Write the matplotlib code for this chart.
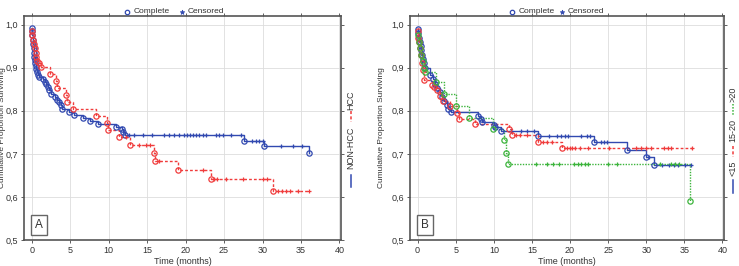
import numpy as np
import matplotlib.pyplot as plt
from matplotlib.lines import Line2D

plt.rcParams['font.family'] = ['Liberation Sans', 'DejaVu Sans']
plt.rcParams['font.size'] = 6

# Panel A: NON-HCC / HCC
nonhcc_t = [0, 0.05, 0.1, 0.15, 0.2, 0.25, 0.3, 0.35, 0.4, 0.45, 0.5, 0.55, 0.65, 0.8, 1.0, 1.5, 1.7, 1.9,
            2.1, 2.3, 2.5, 3.0, 3.3, 3.5, 3.8, 4.0, 4.9, 5.5, 6.7, 7.6, 8.6, 11.0, 11.7, 11.9, 12.1, 27.6,
            30.2, 36.0]
nonhcc_s = [0.993, 0.985, 0.975, 0.965, 0.955, 0.945, 0.935, 0.925, 0.918, 0.91, 0.903, 0.897, 0.89, 0.884,
            0.879, 0.874, 0.867, 0.861, 0.855, 0.848, 0.84, 0.833, 0.826, 0.82, 0.813, 0.805, 0.797, 0.79,
            0.784, 0.776, 0.769, 0.763, 0.757, 0.750, 0.743, 0.73, 0.719, 0.701]
nonhcc_c = [12.6, 13.3, 14.5, 15.7, 17.2, 17.8, 18.5, 19.1, 19.8, 20.2, 20.6, 21.0, 21.4, 21.8, 22.3, 22.7,
            23.9, 24.3, 24.8, 25.9, 27.2, 28.6, 29.1, 29.6, 30.0, 32.4, 34.0, 35.1]

hcc_t = [0, 0.1, 0.2, 0.3, 0.4, 0.5, 0.6, 0.75, 0.9, 1.2, 2.4, 3.1, 3.3, 4.4, 4.6, 5.4, 8.3, 9.8, 9.9,
         11.4, 12.8, 15.9, 16.0, 19.0, 23.3, 31.3]
hcc_s = [0.985, 0.975, 0.965, 0.955, 0.945, 0.935, 0.925, 0.915, 0.91, 0.902, 0.885, 0.87, 0.854, 0.837,
         0.821, 0.804, 0.788, 0.771, 0.756, 0.738, 0.721, 0.702, 0.683, 0.662, 0.641, 0.613]
hcc_c = [12.2, 13.9, 14.9, 15.4, 16.6, 22.2, 23.7, 24.1, 25.2, 27.4, 30.1, 30.6, 32.0, 32.5, 33.1, 33.6,
         34.6, 36.0]

# Panel B: <15 / 15-20 / >20
lt15_t = [0.05, 0.1, 0.2, 0.3, 0.4, 0.5, 0.6, 0.7, 0.8, 1.0, 1.6, 2.0, 2.3, 2.6, 3.0, 3.2, 3.5, 3.8, 4.0,
          4.4, 7.9, 8.3, 8.5, 10.0, 10.2, 11.0, 15.8, 23.2, 27.5, 29.9, 31.0]
lt15_s = [0.99, 0.98, 0.97, 0.96, 0.95, 0.94, 0.93, 0.92, 0.91, 0.90, 0.883, 0.873, 0.863, 0.853, 0.843,
          0.833, 0.823, 0.813, 0.805, 0.796, 0.787, 0.78, 0.774, 0.766, 0.762, 0.753, 0.741, 0.728, 0.71,
          0.693, 0.673]
lt15_c = [12.3, 13.5, 14.3, 15.3, 17.3, 18.3, 18.8, 19.3, 19.7, 21.5, 22.2, 22.6, 24.0, 24.4, 24.9, 30.4,
          32.0, 33.0, 33.7, 34.2, 35.1, 35.9]

mid_t = [0, 0.1, 0.2, 0.3, 0.45, 0.6, 0.75, 0.9, 1.9, 2.2, 2.6, 3.0, 3.3, 4.2, 5.2, 5.4, 7.5, 12.0, 12.4,
         15.8, 18.9]
mid_s = [0.985, 0.97, 0.96, 0.945, 0.93, 0.91, 0.895, 0.872, 0.86, 0.855, 0.848, 0.835, 0.822, 0.81,
         0.795, 0.781, 0.77, 0.757, 0.743, 0.728, 0.714]
mid_c = [12.9, 13.4, 14.4, 16.5, 17.0, 17.6, 19.6, 20.0, 20.3, 20.7, 21.3, 22.4, 25.1, 28.6, 29.3, 30.0,
         30.6, 32.3, 32.8, 33.3, 36.0]

gt20_t = [0.05, 0.2, 0.35, 0.5, 0.65, 0.8, 1.0, 2.4, 3.5, 5.1, 6.7, 9.9, 11.3, 11.6, 11.8, 35.8]
gt20_s = [0.975, 0.96, 0.945, 0.93, 0.915, 0.90, 0.89, 0.866, 0.838, 0.811, 0.784, 0.757, 0.732, 0.703,
          0.676, 0.59]
gt20_c = [15.5, 17.0, 17.8, 18.5, 20.5, 21.1, 21.5, 21.9, 22.4, 25.0, 26.1, 31.8, 33.2, 33.8, 34.3]

yticks = [0.5, 0.6, 0.7, 0.8, 0.9, 1.0]
ylabels = ['0,5', '0,6', '0,7', '0,8', '0,9', '1,0']

BLUE = '#3149b0'
RED = '#f03c3c'
GREEN = '#3cb43c'
DASH = (0, (2, 1.5))
DOT = (0, (1, 1))


def km(ax, t, s, c, color, ls):
    t = np.array(t)
    s = np.array(s)
    c = np.array(c)
    end = max(t.max(), c.max() if len(c) else 0)
    tt = np.append(t, end)
    ss = np.append(s, s[-1])
    ax.step(tt, ss, where='post', color=color, linestyle=ls, lw=1.0, zorder=3)
    ax.plot(t, s, 'o', ms=3.8, mfc='none', mec=color, mew=0.9, zorder=4)
    idx = np.searchsorted(t, c, side='right') - 1
    ax.plot(c, s[idx], '+', ms=3.5, color=color, mew=0.9, zorder=4)


def style(ax, ylab, ylab_px):
    ax.set_xlim(-1, 40.2)
    ax.set_ylim(0.5, 1.02)
    ax.set_xticks(range(0, 41, 5))
    ax.set_yticks(yticks)
    ax.set_yticklabels(ylabels)
    ax.grid(True, color='#dddddd', lw=0.6)
    ax.set_axisbelow(True)
    ax.tick_params(labelsize=6.5, length=2.5, width=0.6, color='#444444', top=True, right=True,
                   pad=2, labelcolor='#333333')
    for sp in ax.spines.values():
        sp.set_color('#555555')
        sp.set_linewidth(1.2)
    ax.set_xlabel('Time (months)', fontsize=6.5, color='#333333', labelpad=1)
    ax.set_ylabel(ylab, fontsize=6, color='#333333')
    ax.yaxis.set_label_coords(ylab_px, 0.5)


def vlegend(x, items):
    # items: (kind, y_top_px, y_bottom_px, text_or_color, linestyle)
    for kind, y0, y1, what, ls in items:
        if kind == 'line':
            fig.add_artist(Line2D([x / 739, x / 739], [1 - y0 / 266, 1 - y1 / 266], color=what,
                                  linestyle=ls, lw=1.1, transform=fig.transFigure))
        else:
            fig.text(x / 739, 1 - (y0 + y1) / 2 / 266, what, rotation=90, fontsize=6.5,
                     color='#333333', ha='center', va='center')


fig = plt.figure(figsize=(7.39, 2.66), dpi=100)
axA = fig.add_axes([24 / 739, 26 / 266, 317 / 739, 224 / 266])
axB = fig.add_axes([410 / 739, 26 / 266, 314 / 739, 224 / 266])

km(axA, nonhcc_t, nonhcc_s, nonhcc_c, BLUE, '-')
km(axA, hcc_t, hcc_s, hcc_c, RED, DASH)
style(axA, 'Cumulative Proportion Surviving', (6.5 - 24) / 317)

km(axB, lt15_t, lt15_s, lt15_c, BLUE, '-')
km(axB, mid_t, mid_s, mid_c, RED, DASH)
km(axB, gt20_t, gt20_s, gt20_c, GREEN, DOT)
style(axB, 'Cumulative Proportion Surviving', (385 - 410) / 314)

for ax, letter in [(axA, 'A'), (axB, 'B')]:
    ax.text(0.035, 0.04, letter, transform=ax.transAxes, fontsize=8.5, color='#333333',
            ha='left', va='bottom',
            bbox=dict(boxstyle='square,pad=0.35', fc='white', ec='#666666', lw=1.0), zorder=6)

# top legends (Complete / Censored)
for ox, sx in [(127, 182), (512, 562)]:
    fig.add_artist(Line2D([ox / 739], [0.955], marker='o', ms=3.2, mfc='none', mec=BLUE, mew=0.9,
                          transform=fig.transFigure))
    fig.text((ox + 7) / 739, 0.955, 'Complete', color='#333333', fontsize=6, ha='left', va='center')
    fig.add_artist(Line2D([sx / 739], [0.955], marker='*', ms=3.5, color=BLUE, mew=0.5,
                          transform=fig.transFigure))
    fig.text((sx + 6) / 739, 0.955, 'Censored', color='#333333', fontsize=6, ha='left', va='center')

# right-hand group legends (rotated)
vlegend(351, [('text', 92, 108, 'HCC', None),
              ('line', 111, 122, RED, DASH),
              ('text', 125, 171, 'NON-HCC', None),
              ('line', 175, 187, BLUE, '-')])
vlegend(733, [('text', 87, 101, '>20', None),
              ('line', 104, 115, GREEN, DOT),
              ('text', 119, 141, '15-20', None),
              ('line', 146, 157, RED, DASH),
              ('text', 161, 176, '<15', None),
              ('line', 180, 193, BLUE, '-')])

fig.savefig('out.png', dpi=100)
